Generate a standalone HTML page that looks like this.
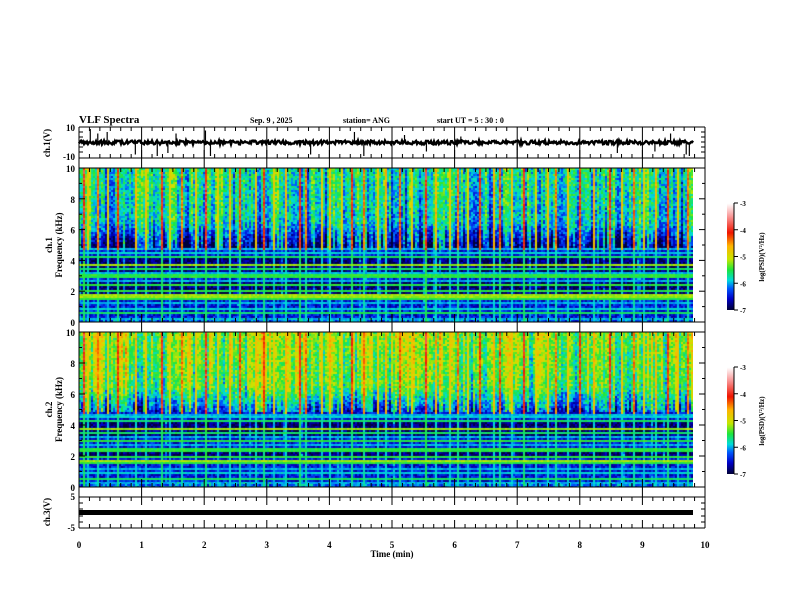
<!DOCTYPE html>
<html><head><meta charset="utf-8"><style>
html,body{margin:0;padding:0;background:#fff;width:792px;height:612px;overflow:hidden}
#root{position:relative;width:792px;height:612px}
canvas{position:absolute}
svg{position:absolute;left:0;top:0}
text{font-family:"Liberation Serif",serif;font-weight:bold;fill:#000}
</style></head><body><div id="root">
<canvas id="spec1" width="614" height="154" style="left:79px;top:168px"></canvas>
<canvas id="spec2" width="614" height="155" style="left:79px;top:332px"></canvas>
<canvas id="cb1" width="7" height="107" style="left:727px;top:203px"></canvas>
<canvas id="cb2" width="7" height="107" style="left:727px;top:367px"></canvas>
<svg id="svg" width="792" height="612"></svg>
</div>
<script>
// ---- data ----
const timeTicks=[0,1,2,3,4,5,6,7,8,9,10];
const freqTicks=[0,2,4,6,8,10];
const cbTicks=[-3,-4,-5,-6,-7];
const eventTimes=[0.05,0.12,0.3,0.45,0.62,0.9,1.05,1.3,1.45,1.62,1.85,2.02,2.2,2.4,2.55,2.8,2.95,3.1,3.3,3.5,3.62,3.85,4.0,4.18,4.35,4.55,4.75,4.9,5.1,5.3,5.52,5.7,5.9,6.05,6.2,6.4,6.6,6.72,6.9,7.1,7.3,7.48,7.6,7.8,8.0,8.2,8.48,8.65,8.85,9.0,9.2,9.4,9.55,9.7];
const eventLevel=[1.2,0.5,0.8,0.4,1.0,0.6,0.5,1.1,0.4,0.8,0.5,1.2,0.4,0.6,0.9,0.5,1.0,0.4,0.6,1.1,0.8,0.5,0.6,0.4,1.0,0.8,0.5,0.6,0.9,0.4,1.2,0.6,0.5,0.8,0.4,1.0,0.6,0.9,0.5,1.1,0.4,0.6,0.8,0.5,1.0,0.6,1.2,0.5,0.8,0.4,0.6,1.0,0.5,0.8];
const lineFreqs=[4.75,4.6,4.3,3.75,3.5,3.3,3.05,2.75,2.45,2.05,1.75,1.62,1.25,0.95,0.6,0.3];
const lineLevels=[-6.0,-5.9,-5.6,-5.2,-5.6,-6.0,-5.5,-6.0,-5.5,-5.5,-5.2,-5.5,-6.0,-5.9,-5.6,-6.0];
const ch1SpikeT=[0.18,0.3,0.45,0.9,1.25,1.42,1.55,2.02,2.1,3.7,4.4,4.55,5.2,5.55,6.1,7.0,8.6,9.2,9.45,9.7,9.75];
const ch1SpikeV=[9,6,7,-8,-9,-7,6,8,-9,-8,7,-9,5,-6,4,-5,-7,-6,6,-8,-9];
const ch3Value=[0];

const X0=79,X1=705,tx=t=>X0+(X1-X0)*t/10;
function h(a,b,c){let n=(a*374761393+b*668265263+c*2147483647)|0;n=(n^(n>>>13))*1274126177|0;n^=n>>>16;return ((n>>>0)%10000)/10000;}
function cmap(v){
  const s=[[-7,[0,0,60]],[-6.6,[0,0,200]],[-6.2,[0,90,255]],[-5.9,[0,220,220]],[-5.5,[30,230,60]],[-5.1,[200,230,0]],[-4.6,[255,180,0]],[-4.1,[240,20,0]],[-3.5,[250,150,150]],[-3,[255,255,255]]];
  if(v<=s[0][0])return s[0][1];
  for(let i=1;i<s.length;i++){if(v<=s[i][0]){const f=(v-s[i-1][0])/(s[i][0]-s[i-1][0]),a=s[i-1][1],b=s[i][1];return [a[0]+(b[0]-a[0])*f,a[1]+(b[1]-a[1])*f,a[2]+(b[2]-a[2])*f];}}
  return s[s.length-1][1];
}
function drawSpec(id,seed,hiBase){
  const c=document.getElementById(id),ctx=c.getContext('2d'),W=c.width,H=c.height;
  const img=ctx.createImageData(W,H);
  for(let cx=0;cx<W;cx+=2){
    let ev=0;
    for(let k=0;k<eventTimes.length;k++){const d=Math.abs(tx(eventTimes[k])-X0-cx);if(d<1)ev=Math.max(ev,eventLevel[k]);}
    const colVar=(h(cx,seed,1)-0.5)*0.8+(h(cx>>3,seed,2)-0.5)*0.5;
    const thin=h(cx,seed,3)<0.06;
    for(let cy=0;cy<H;cy+=2){
      const f=10*(1-cy/H);
      let v;
      const n=(h(cx,cy,seed)-0.5)*0.7;
      if(f>4.9){const edge=f<6.5?(6.5-f)*0.5:0;v=hiBase+colVar+n-edge*(h(cx,7,seed)>0.4?1.3:0.4)+(f-6.5)*0.06;}
      else {let dark=(f>3.2&&f<4.2)||(f>1.9&&f<2.6)?-0.35:0;v=-6.5+n*0.8+dark+(f<0.35?0.6*h(cx,cy,9):0);}
      for(let k=0;k<lineFreqs.length;k++)if(Math.abs(f-lineFreqs[k])<0.07)v=Math.max(v,lineLevels[k]+n*0.3);
      if(ev>0)v=Math.max(v,(f>4.8?-5.3:-6.2)+ev*(f>4.8?1.1:0.5)*(0.8+0.4*h(cx,cy,5)));
      if(thin)v=Math.max(v,(f>4.8?-5.7:-6.2)+n);
      const col=cmap(v);
      for(let dx=0;dx<2;dx++)for(let dy=0;dy<2;dy++){const X=cx+dx,Y=cy+dy;if(X<W&&Y<H){const i=(Y*W+X)*4;img.data[i]=col[0];img.data[i+1]=col[1];img.data[i+2]=col[2];img.data[i+3]=255;}}
    }
  }
  ctx.putImageData(img,0,0);
}
drawSpec('spec1',11,-5.9);
drawSpec('spec2',23,-5.4);
['cb1','cb2'].forEach(id=>{const c=document.getElementById(id),ctx=c.getContext('2d');for(let y=0;y<c.height;y++){const v=-3-4*y/(c.height-1);const col=cmap(v);ctx.fillStyle=`rgb(${col[0]|0},${col[1]|0},${col[2]|0})`;ctx.fillRect(0,y,c.width,1);}});

const S=document.getElementById('svg'),NS='http://www.w3.org/2000/svg';
function el(tag,attrs,parent){const e=document.createElementNS(NS,tag);for(const k in attrs)e.setAttribute(k,attrs[k]);(parent||S).appendChild(e);return e;}
function txt(x,y,s,anchor,size,rot){const e=el('text',{x:x,y:y,'text-anchor':anchor||'start','font-size':size||10});if(rot)e.setAttribute('transform',`rotate(-90 ${x} ${y})`);e.textContent=s;return e;}
const L=(x1,y1,x2,y2,w)=>el('line',{x1,y1,x2,y2,stroke:'#000','stroke-width':w||1});

let t1=txt(79,123,'VLF Spectra','start',11);
txt(250,123,'Sep. 9  , 2025','start',8);
txt(343,123,'station= ANG','start',8);
txt(437,123,'start  UT  =   5  : 30 : 0','start',8);

L(X0,127,X1,127);L(X0,127,X0,528);L(X1,127,X1,528);
[158,168,322,332,487,497,528].forEach(y=>L(X0,y,X1,y));
const tickRows=[[127,1],[158,-1],[168,1],[322,-1],[332,1],[487,-1],[497,1],[528,-1]];
tickRows.forEach(([y,d])=>{for(let i=0;i<=60;i++){const x=tx(i/6);
  if(i%6===0&&y===127){L(x,127,x,168);continue;}
  if(i%6===0&&(y===168||y===332)){continue;}
  const len=i%6===0?8:4;L(x,y,x,y+d*len);}});
[322,487].forEach(y=>{for(let i=0;i<=10;i++){const x=tx(i);L(x,y,x,y+10);}});
timeTicks.forEach(t=>{const e=txt(tx(t),548,String(t),'middle',9);});
let xt=txt(392,557,'Time  (min)','middle',9);

txt(75,131,'10','end',9);txt(75,160,'-10','end',9);
[132,137,142,147,152].forEach(y=>{L(X0,y,X0+4,y);L(X1,y,X1-4,y);});
txt(50,143,'ch.1(V)','middle',9,true);
{let d='';const y0=142.5;
for(let x=0;x<=614;x++){let v=(h(x,1,77)-0.5)*2.6;d+=(x?'L':'M')+(X0+x)+' '+(y0-v*1.5).toFixed(1);}
el('path',{d:d,fill:'none',stroke:'#000','stroke-width':2.4,});
ch1SpikeT.forEach((t,i)=>{const x=tx(t);const s=L(x,y0,x,y0-ch1SpikeV[i]*1.5,1.2);});}

[[168,322,'ch.1'],[332,487,'ch.2']].forEach(([a,b,nm])=>{
  freqTicks.forEach(f=>{const y=b-(b-a)*f/10;txt(75,y+4,String(f),'end',9);L(X0,y,X0+6,y);L(X1,y,X1-6,y);});
  for(let f=1;f<10;f+=2){const y=b-(b-a)*f/10;L(X0,y,X0+3,y);L(X1,y,X1-3,y);}
  txt(52,(a+b)/2,nm,'middle',9,true);txt(62,(a+b)/2,'Frequency  (kHz)','middle',9,true);
});
[203,367].forEach(top=>{
  L(734,top,734,top+107);
  cbTicks.forEach((v,i)=>{const y=top+107*i/4;L(734,y,738,y);txt(740,y+3,String(v),'start',7);});
  txt(764,top+54,'log(PSD)(V\u00b2/Hz)','middle',7,true);
});
txt(75,500,'5','end',9);txt(75,531,'-5','end',9);
[503,509,516,522].forEach(y=>{L(X0,y,X0+4,y);L(X1,y,X1-4,y);});
txt(50,512,'ch.3(V)','middle',9,true);
{const y=512.5-ch3Value[0]*3.1;el('rect',{x:X0,y:y-2.5,width:614,height:5,fill:'#000',});}
</script></body></html>
